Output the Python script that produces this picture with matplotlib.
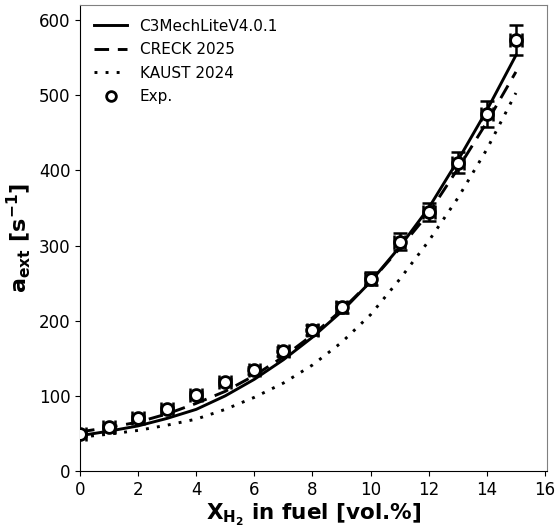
import matplotlib
matplotlib.use("Agg")
import matplotlib.pyplot as plt
import numpy as np

x_model = [0, 1, 2, 3, 4, 5, 6, 7, 8, 9, 10, 11, 12, 13, 14, 15]
c3mech = [47, 53, 60, 70, 82, 100, 122, 148, 178, 212, 252, 298, 350, 413, 480, 553]
creck = [52, 58, 65, 76, 90, 106, 127, 152, 181, 214, 252, 296, 343, 402, 464, 531]
kaust = [45, 49, 54, 61, 69, 82, 98, 117, 141, 171, 208, 255, 306, 363, 428, 503]

x_exp = [0, 1, 2, 3, 4, 5, 6, 7, 8, 9, 10, 11, 12, 13, 14, 15]
y_exp = [49, 59, 70, 82, 101, 118, 134, 159, 188, 218, 256, 305, 345, 410, 475, 573]
yerr_exp = [2, 2, 2.5, 3, 3.5, 4, 5, 5.5, 6.5, 7.5, 9, 11, 12, 14, 17, 20]
xerr_exp = [0.2] * 16

fig = plt.figure(figsize=(5.56, 5.27), dpi=100)
ax = fig.add_axes([0.1439, 0.1063, 0.8399, 0.8842])

ax.plot(x_model, c3mech, color='black', lw=2.1, ls='-', label='C3MechLiteV4.0.1')
ax.plot(x_model, creck, color='black', lw=2.1, ls=(0, (5, 3)), label='CRECK 2025')
ax.plot(x_model, kaust, color='black', lw=2.1, ls=(0, (1, 2.8)), label='KAUST 2024')
ax.errorbar(x_exp, y_exp, yerr=yerr_exp, xerr=xerr_exp, fmt='none', ecolor='black',
            elinewidth=1.8, capsize=5, capthick=1.8, zorder=3)
ax.plot(x_exp, y_exp, ls='none', marker='o', ms=8.5, mfc='white', mec='black', mew=2,
        label='Exp.', zorder=4)

ax.set_xlim(0, 16.07)
ax.set_ylim(0, 620)
ax.set_xticks([0, 2, 4, 6, 8, 10, 12, 14, 16])
ax.set_yticks([0, 100, 200, 300, 400, 500, 600])
ax.tick_params(labelsize=12)

ax.spines['top'].set_color('gray')
ax.spines['right'].set_color('gray')

ax.set_xlabel(r'$\mathbf{X_{H_2}}$ in fuel [vol.%]', fontsize=15.5, fontweight='bold', labelpad=2)
ax.set_ylabel(r'$\mathbf{a_{ext}}$ $\mathbf{[s^{-1}]}$', fontsize=16, fontweight='bold', labelpad=4)

leg = ax.legend(loc='upper left', frameon=False, fontsize=11, handlelength=2.2,
                borderaxespad=0.5, labelspacing=0.55)
for h in leg.legend_handles:
    if h.get_marker() == 'o':
        h.set_markersize(7)

fig.savefig('out.png', dpi=100)
